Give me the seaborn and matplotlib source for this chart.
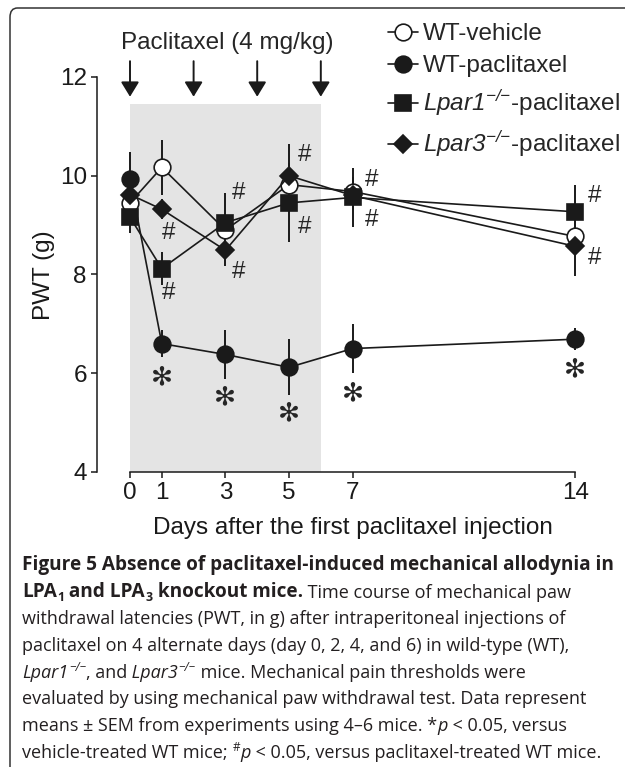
import matplotlib
matplotlib.use('Agg')
import matplotlib.pyplot as plt
import seaborn as sns
from matplotlib.patches import FancyBboxPatch

# PWT (g), days after first injection
days = [0, 1, 3, 5, 7, 14]

wt_vehicle = [9.45, 10.17, 8.90, 9.82, 9.68, 8.77]
wt_vehicle_sem = [0.30, 0.55, 0.30, 0.30, 0.30, 0.25]
wt_paclitaxel = [9.93, 6.60, 6.38, 6.12, 6.50, 6.69]
wt_paclitaxel_sem = [0.55, 0.28, 0.50, 0.57, 0.50, 0.22]
lpar1_paclitaxel = [9.16, 8.12, 9.05, 9.45, 9.56, 9.27]
lpar1_paclitaxel_sem = [0.32, 0.33, 0.60, 0.80, 0.60, 0.55]
lpar3_paclitaxel = [9.62, 9.32, 8.49, 10.00, 9.60, 8.57]
lpar3_paclitaxel_sem = [0.30, 0.20, 0.32, 0.65, 0.30, 0.60]

injection_days = [0, 2, 4, 6]
shade_days = [0, 6]
shade_top = 11.45

# significance marks
hash_x = [1.2, 1.2, 3.4, 3.4, 5.5, 5.5, 7.6, 7.6, 14.6, 14.6]
hash_y = [8.84, 7.62, 9.65, 8.05, 10.42, 8.97, 9.92, 9.10, 9.58, 8.34]
star_x = [1, 3, 5, 7, 14]
star_y = [5.92, 5.51, 5.19, 5.60, 6.08]

W, H = 625, 767

sns.set_theme(style='ticks')
plt.rcParams['font.family'] = ['Liberation Sans', 'DejaVu Sans']
plt.rcParams['mathtext.fontset'] = 'custom'
plt.rcParams['mathtext.rm'] = 'Liberation Sans:italic'
plt.rcParams['mathtext.it'] = 'Liberation Sans:italic'

fs = 17.5
fig = plt.figure(figsize=(W / 100, H / 100), dpi=100)
ax = fig.add_axes([97 / W, 1 - 472 / H, (594.3 - 97) / W, (472 - 52.3) / H])
ax.set_facecolor('none')

ax.fill_between(shade_days, 4, shade_top, color='#e4e4e4', lw=0, zorder=0)

series = [
    ('WT-paclitaxel', wt_paclitaxel, wt_paclitaxel_sem, 'o', 'k', 12),
    ('WT-vehicle', wt_vehicle, wt_vehicle_sem, 'o', 'white', 12),
    (r'$Lpar3^{{-}/{-}}$-paclitaxel', lpar3_paclitaxel, lpar3_paclitaxel_sem, 'D', 'k', 9),
    (r'$Lpar1^{{-}/{-}}$-paclitaxel', lpar1_paclitaxel, lpar1_paclitaxel_sem, 's', 'k', 11),
]
for label, vals, sem, mk, face, size in series:
    ax.errorbar(days, vals, yerr=sem, fmt='none', ecolor='k', elinewidth=1.4, capsize=0, zorder=1.8)
    sns.lineplot(x=days, y=vals, ax=ax, color='k', lw=1.2, marker=mk, markersize=size,
                 markerfacecolor=face, markeredgecolor='k', markeredgewidth=1.2,
                 errorbar=None, label=label)

# injection arrows and label
for d in injection_days:
    ax.annotate('', xy=(d, 11.6), xytext=(d, 12.32), annotation_clip=False,
                arrowprops=dict(arrowstyle='-|>,head_width=0.55,head_length=0.9',
                                mutation_scale=10, color='k', lw=1.4, shrinkA=0, shrinkB=0))
ax.text(3.05, 12.69, 'Paclitaxel (4 mg/kg)', ha='center', va='center', fontsize=fs, clip_on=False)

for x, y in zip(hash_x, hash_y):
    ax.text(x, y, '#', ha='center', va='center', fontsize=fs, clip_on=False)
for x, y in zip(star_x, star_y):
    ax.text(x, y, '\u273b', ha='center', va='center', fontsize=19, family=['DejaVu Sans'], clip_on=False)

ax.set_xlim(-(130 - 97) / 31.8, 14.6)
ax.set_ylim(4, 12.5)
ax.set_xticks(days)
ax.set_yticks([4, 6, 8, 10, 12])
sns.despine(ax=ax)
ax.spines['left'].set_bounds(4, 12)
ax.spines['bottom'].set_bounds(0, 14)
for s in ('left', 'bottom'):
    ax.spines[s].set_linewidth(1.1)
    ax.spines[s].set_color('k')
ax.tick_params(length=4.3, width=1.1, color='k', labelsize=fs, labelcolor='k', pad=3)
ax.set_xlabel('Days after the first paclitaxel injection', fontsize=fs, color='k')
ax.set_ylabel('PWT (g)', fontsize=fs, color='k')
ax.xaxis.set_label_coords(0.514, -0.107)
ax.yaxis.set_label_coords(-0.0845, 0.469)
ax.grid(False)

handles, labels = ax.get_legend_handles_labels()
ax.get_legend().remove()
order = [1, 0, 3, 2]
fig.legend([handles[i] for i in order], [labels[i] for i in order],
           loc='upper left', bbox_to_anchor=(388 / W, 1 - 23 / H), frameon=False,
           fontsize=fs, borderpad=0, borderaxespad=0, handlelength=1.25,
           handletextpad=0.2, labelspacing=0.42)

# panel frame (only top and left edges show)
frame = FancyBboxPatch((10 / W, -0.05), 1.2, 1 - 8 / H + 0.05, transform=fig.transFigure,
                       boxstyle='round,pad=0,rounding_size=0.012', fill=False,
                       ec='#333333', lw=1.1)
fig.add_artist(frame)

# caption
cap_font = 'Open Sans'
cap_size = 13.0
cap_bold_size = 13.7
cap_color = '#231f20'


def caption_line(y_px, runs):
    first = prev = None
    for text, style, gap in runs:
        size = cap_size
        kw = dict(fontfamily=cap_font, color=cap_color, va='bottom', ha='left')
        dy = 0
        if 'b' in style:
            kw['fontweight'] = 'bold'
            size = cap_bold_size
        if 'i' in style:
            kw['fontstyle'] = 'italic'
        if '^' in style:
            dy = size * 0.45
            size = size * 0.65
        if '_' in style:
            dy = -size * 0.12
            size = size * 0.65
        kw['fontsize'] = size
        if prev is None:
            prev = fig.text(22 / W, 1 - y_px / H, text, **kw)
            first = prev
        else:
            prev = ax.annotate(text, xy=(1, 0), xycoords=(prev, first), xytext=(gap, dy),
                               textcoords='offset points', annotation_clip=False, **kw)


cap_lines = [
    [('Figure 5 Absence of paclitaxel-induced mechanical allodynia in', 'b', 0)],
    [('LPA', 'b', 0), ('1', 'b_', 0.3), (' and LPA', 'b', 0), ('3', 'b_', 0.3),
     (' knockout mice.', 'b', 0), (' Time course of mechanical paw', '', 0)],
    [('withdrawal latencies (PWT, in g) after intraperitoneal injections of', '', 0)],
    [('paclitaxel on 4 alternate days (day 0, 2, 4, and 6) in wild-type (WT),', '', 0)],
    [('Lpar1', 'i', 0), ('\u2212/\u2212', 'i^', 0.5), (', and', '', 0), (' Lpar3', 'i', 0),
     ('\u2212/\u2212', 'i^', 0.5), (' mice. Mechanical pain thresholds were', '', 0)],
    [('evaluated by using mechanical paw withdrawal test. Data represent', '', 0)],
    [('means \u00b1 SEM from experiments using 4\u20136 mice. *', '', 0), ('p', 'i', 0),
     (' < 0.05, versus', '', 0)],
    [('vehicle-treated WT mice;', '', 0), ('#', '^', 4), ('p', 'i', 0),
     (' < 0.05, versus paclitaxel-treated WT mice.', '', 0)],
]
for k, runs in enumerate(cap_lines):
    caption_line(575 + 26.7 * k, runs)

fig.savefig('out.png', dpi=100)
